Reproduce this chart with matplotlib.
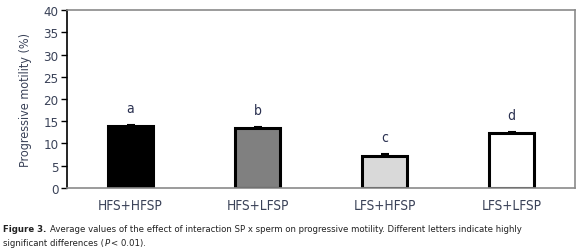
import numpy as np
import matplotlib
matplotlib.use("Agg")
import matplotlib.pyplot as plt

groups = ["HFS+HFSP", "HFS+LFSP", "LFS+HFSP", "LFS+LFSP"]
motility = [13.9, 13.5, 7.2, 12.3]
err = [0.35, 0.3, 0.4, 0.3]
letters = ["a", "b", "c", "d"]
fills = ["#000000", "#808080", "#d9d9d9", "#ffffff"]

plt.rcParams['font.family'] = ['DejaVu Sans']
plt.rcParams['font.stretch'] = 'condensed'
txtcol = "#3a4258"

fig = plt.figure(figsize=(5.8, 2.53), dpi=100)
ax = fig.add_axes([0.1155, 0.253, 0.876, 0.7035])

x = np.arange(len(groups))
ax.bar(x, motility, 0.35, color=fills, edgecolor="black", linewidth=2.2, zorder=2)
ax.errorbar(x, motility, yerr=[np.zeros(4), err], fmt="none", ecolor="black",
            elinewidth=1.5, capsize=3, capthick=1.5, zorder=3)
for i in range(len(groups)):
    ax.text(x[i], motility[i] + err[i] + 3.8, letters[i], ha="center", va="center",
            fontsize=10, color="#2a3050")

ax.set_xlim(-0.5, 3.5)
ax.set_ylim(0, 40)
ax.set_yticks(np.arange(0, 41, 5))
ax.set_xticks(x)
ax.set_xticklabels(groups, fontsize=9.8, color=txtcol)
ax.tick_params(axis="x", length=0, pad=7)
ax.tick_params(axis="y", length=4, width=1, labelsize=9.5, labelcolor=txtcol, pad=2)
ax.set_ylabel("Progressive motility (%)", fontsize=9, color=txtcol, labelpad=8)

ax.spines["left"].set_color("black")
ax.spines["left"].set_linewidth(1.2)
for s in ["top", "right", "bottom"]:
    ax.spines[s].set_color("#8a8a8a")
    ax.spines[s].set_linewidth(1.2)

# caption
cs = 6.8
y1, y2 = 0.083, 0.028
bold = fig.text(0.006, y1, "Figure 3.", fontsize=cs, fontweight="bold", color="#222222", va="baseline")
fig.canvas.draw()
bb = bold.get_window_extent()
fig.text((bb.x1 + 3) / fig.bbox.width, y1,
         "Average values of the effect of interaction SP x sperm on progressive motility. Different letters indicate highly",
         fontsize=cs, color="#222222", va="baseline")
t = fig.text(0.006, y2, "significant differences (", fontsize=cs, color="#222222", va="baseline")
fig.canvas.draw()
bb = t.get_window_extent()
p = fig.text(bb.x1 / fig.bbox.width, y2, "P", fontsize=cs, style="italic", color="#222222", va="baseline")
fig.canvas.draw()
bb = p.get_window_extent()
fig.text((bb.x1 + 1) / fig.bbox.width, y2, "< 0.01).", fontsize=cs, color="#222222", va="baseline")

fig.savefig("out.png", dpi=100)
